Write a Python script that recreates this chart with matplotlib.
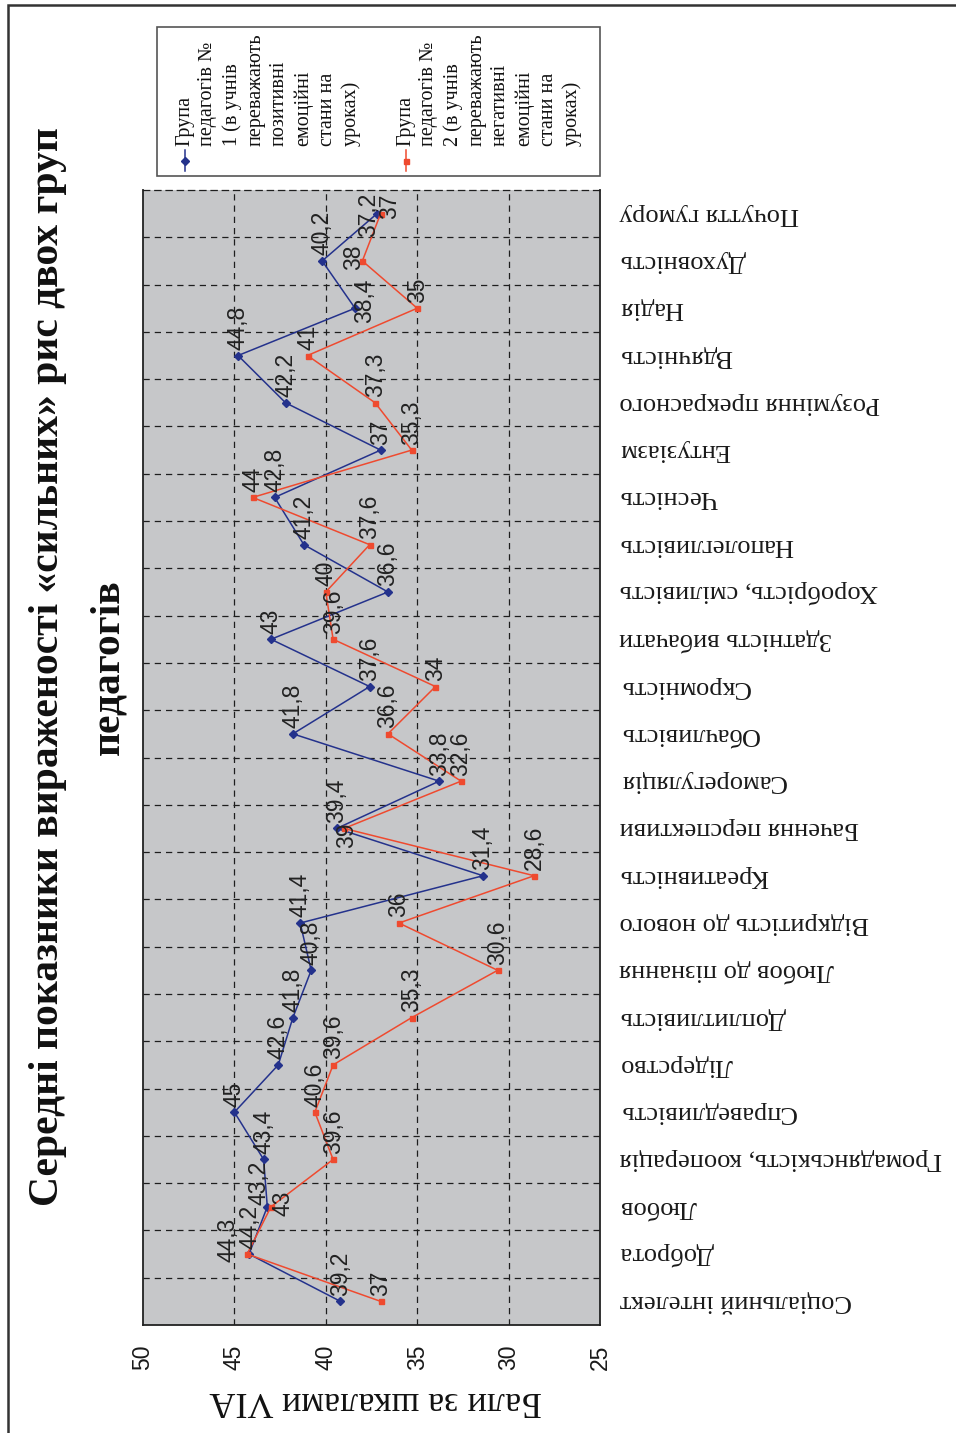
import matplotlib
matplotlib.use("Agg")
import matplotlib.pyplot as plt
from matplotlib.lines import Line2D
from matplotlib.patches import Rectangle

# --- data -------------------------------------------------------------
categories = [
    "Соціальний інтелект", "Доброта", "Любов", "Громадянськість, кооперація",
    "Справедливість", "Лідерство", "Доплитливість", "Любов до пізнання",
    "Відкритість до нового", "Креативність", "Бачення перспективи",
    "Саморегуляція", "Обачливість", "Скромність", "Здатність вибачати",
    "Хоробрість, сміливість", "Наполегливість", "Чесність", "Ентузіазм",
    "Розуміння прекрасного", "Вдячність", "Надія", "Духовність",
    "Почуття гумору",
]
group1 = [39.2, 44.2, 43.2, 43.4, 45, 42.6, 41.8, 40.8, 41.4, 31.4, 39.4,
          33.8, 41.8, 37.6, 43, 36.6, 41.2, 42.8, 37, 42.2, 44.8, 38.4,
          40.2, 37.2]
group2 = [37, 44.3, 43, 39.6, 40.6, 39.6, 35.3, 30.6, 36, 28.6, 39, 32.6,
          36.6, 34, 39.6, 40, 37.6, 44, 35.3, 37.3, 41, 35, 38, 37]
value_ticks = [50, 45, 40, 35, 30, 25]

title_line1 = "Середні показники вираженості «сильних» рис двох груп"
title_line2 = "педагогів"
value_label = "Бали за шкалами VIA"
legend1 = "Група\nпедагогів №\n1 (в учнів\nпереважають\nпозитивні\nемоційні\nстани на\nуроках)"
legend2 = "Група\nпедагогів №\n2 (в учнів\nпереважають\nнегативні\nемоційні\nстани на\nуроках)"

# --- style ------------------------------------------------------------
W, H = 956, 1433
SERIF = "Liberation Serif"
SANS = "Liberation Sans"
BLUE = "#24328c"
RED = "#ef4a2f"
PLOT_BG = "#c6c7c9"
GRID = "#1e1e1e"
DASH = (0, (5, 4))

fig = plt.figure(figsize=(W / 100, H / 100), dpi=100)
fig.patch.set_facecolor("white")

# plot area in pixel coordinates (left, top, right, bottom)
L, T, R, B = 143, 190, 600, 1325
ax = fig.add_axes([L / W, 1 - B / H, (R - L) / W, (B - T) / H])
ax.set_facecolor(PLOT_BG)

n = len(categories)
idx = list(range(n))

ax.plot(group1, idx, color=BLUE, lw=1.1, marker="D", ms=3.6, zorder=4)
ax.plot(group2, idx, color=RED, lw=1.1, marker="s", ms=3.6, zorder=4)

ax.set_xlim(50, 25)
ax.set_ylim(-0.5, n - 0.5)

# value axis along the bottom, labels turned a quarter
ax.set_xticks(value_ticks)
ax.set_xticklabels([str(v) for v in value_ticks], rotation=90,
                   fontfamily=SANS, fontsize=16.5, color="#1a1a1a")
ax.tick_params(axis="x", length=0, pad=14)

# category axis on the right, labels upside down
ax.yaxis.tick_right()
ax.set_yticks(idx)
ax.set_yticklabels(categories, rotation=180, fontfamily=SERIF, fontsize=19,
                   color="#1a1a1a", va="center", ha="left")
ax.tick_params(axis="y", which="major", length=0, pad=14)

# dashed gridlines
for v in value_ticks[1:-1]:
    ax.axvline(v, color=GRID, lw=0.9, ls=DASH, zorder=1)
for k in range(n - 1):
    ax.axhline(k + 0.5, color=GRID, lw=0.9, ls=DASH, zorder=1)

for side in ("left", "right", "bottom"):
    ax.spines[side].set_color("#222222")
    ax.spines[side].set_linewidth(1.3)
ax.spines["top"].set_linestyle(DASH)
ax.spines["top"].set_color(GRID)
ax.spines["top"].set_linewidth(0.9)


def fmt(v):
    return f"{v:g}".replace(".", ",")


# label nudges (points) where neighbouring values collide
nudge1 = {1: (1, 4), 2: (-6, 1), 21: (7, -10.5), 23: (-6.3, -16.5)}
nudge2 = {1: (-13.5, -6), 2: (9, -7), 10: (1.5, -14), 22: (-6.5, -6.5),
          23: (6.5, -3.5)}

for series, nudges in ((group1, nudge1), (group2, nudge2)):
    for i, v in enumerate(series):
        dx, dy = nudges.get(i, (0, 4))
        ax.annotate(fmt(v), (v, i), xytext=(dx, dy), textcoords="offset points",
                    rotation=90, ha="center", va="bottom", fontfamily=SANS,
                    fontsize=16.5, color="#222222", zorder=5)

# --- overlay in pixel coordinates: frame, title, legend, axis name -----
ov = fig.add_axes([0, 0, 1, 1], zorder=-1)
ov.set_xlim(0, W)
ov.set_ylim(H, 0)
ov.axis("off")

ov.plot([8, 8, W], [H, 5, 5], color="#333333", lw=1.8,
        solid_joinstyle="miter")

ov.text(48, 667, title_line1, rotation=90, ha="center", va="center",
        fontfamily=SERIF, fontweight="bold", fontsize=30, color="#111111")
ov.text(108, 667, title_line2, rotation=90, ha="center", va="center",
        fontfamily=SERIF, fontweight="bold", fontsize=30, color="#111111")

ov.text(376, 1400, value_label, rotation=180, ha="center", va="center",
        fontfamily=SERIF, fontsize=26, color="#111111")

# legend
ov.add_patch(Rectangle((157, 27), 443, 149, facecolor="white",
                       edgecolor="#555555", lw=1.2))
for x0, txt, col, mk in ((185, legend1, BLUE, "D"), (406, legend2, RED, "s")):
    ov.add_line(Line2D([x0, x0], [150, 171], color=col, lw=1.1))
    ov.plot([x0], [160.5], marker=mk, ms=3.6, color=col)
    ov.text(x0 - 10, 146, txt, rotation=90, ha="left", va="bottom",
            multialignment="left", fontfamily=SERIF, fontsize=14.5,
            linespacing=1.32, color="#111111")

fig.savefig("out.png", dpi=100)
